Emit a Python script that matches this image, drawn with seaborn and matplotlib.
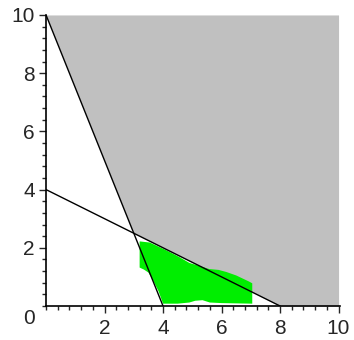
import numpy as np
import pandas as pd
import matplotlib
matplotlib.use("Agg")
import matplotlib.pyplot as plt
from matplotlib.ticker import MultipleLocator
import seaborn as sns

# constraint lines
line_a = {"x": [0, 4], "y": [10, 0]}     # 5x + 2y = 20
line_b = {"x": [0, 8], "y": [4, 0]}      # x + 2y = 8

# shaded (infeasible) region boundary
shade_x = [0, 3, 8, 10]
shade_y = [10, 2.5, 0, 0]

# green blob outline
blob_x = [3.20, 3.55, 4.10, 4.56, 4.90, 5.30, 5.58, 5.90, 6.16, 6.50, 6.94, 7.05,
          7.05, 6.00, 5.60, 5.35, 5.10, 4.90, 4.50, 4.00, 3.85, 3.65, 3.50, 3.35, 3.20]
blob_y = [2.22, 2.18, 1.92, 1.68, 1.48, 1.36, 1.27, 1.24, 1.17, 1.05, 0.84, 0.78,
          0.08, 0.10, 0.12, 0.20, 0.18, 0.12, 0.08, 0.08, 0.50, 0.90, 1.15, 1.25, 1.32]

ticks = [2, 4, 6, 8, 10]

sns.set_style("ticks")
plt.rcParams["font.family"] = ["Liberation Sans", "DejaVu Sans"]

fig = plt.figure(figsize=(3.54, 3.40), dpi=100)
ax = fig.add_axes([0.130, 0.100, 0.8305, 0.856])

# gray region above both lines
ax.fill_between(shade_x, shade_y, 10, color="#c0c0c0", lw=0, zorder=1)

# green blob
ax.fill(blob_x, blob_y, color="#00ee00", lw=0, zorder=2)

sns.lineplot(data=pd.DataFrame(line_a), x="x", y="y", ax=ax, color="black", lw=1.0, zorder=3)
sns.lineplot(data=pd.DataFrame(line_b), x="x", y="y", ax=ax, color="black", lw=1.0, zorder=3)

ax.set_xlim(0, 10.05)
ax.set_ylim(0, 10)
ax.set_xticks(ticks)
ax.set_yticks(ticks)
ax.xaxis.set_minor_locator(MultipleLocator(0.4))
ax.yaxis.set_minor_locator(MultipleLocator(0.4))
ax.tick_params(which="major", length=5, width=1, labelsize=15, direction="out", pad=3)
ax.tick_params(axis="x", which="major", pad=4.5)
ax.tick_params(which="minor", length=3, width=1, direction="out")
ax.set_xlabel("")
ax.set_ylabel("")

for s in ["top", "right"]:
    ax.spines[s].set_visible(False)
for s in ["left", "bottom"]:
    ax.spines[s].set_linewidth(1.2)
    ax.spines[s].set_color("black")
    ax.spines[s].set_zorder(4)

ax.text(-0.58, -0.42, "0", fontsize=15, ha="center", va="center")

fig.savefig("out.png", dpi=100)
